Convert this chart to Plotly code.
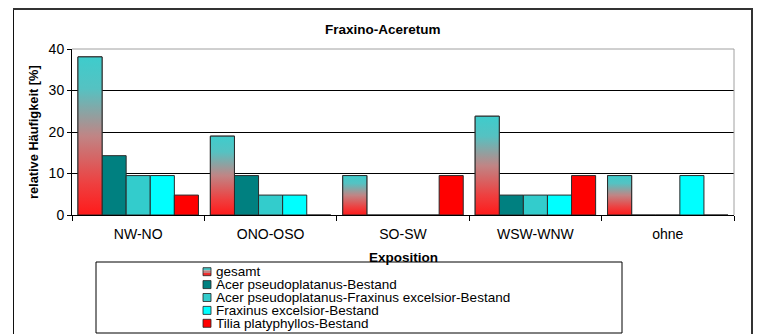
import plotly.graph_objects as go

# data (relative frequency in %)
categories = ['NW-NO', 'ONO-OSO', 'SO-SW', 'WSW-WNW', 'ohne']
gesamt = [38.1, 19.0, 9.5, 23.8, 9.5]
acer = [14.3, 9.5, 0, 4.8, 0]
acer_fraxinus = [9.5, 4.8, 0, 4.8, 0]
fraxinus = [9.5, 4.8, 0, 4.8, 9.5]
tilia = [4.8, 0, 9.5, 9.5, 0]

series_names = ['gesamt', 'Acer pseudoplatanus-Bestand',
                'Acer pseudoplatanus-Fraxinus excelsior-Bestand',
                'Fraxinus excelsior-Bestand', 'Tilia platyphyllos-Bestand']
series_colors = ['rgba(0,0,0,0)', '#008080', '#33CCCC', '#00FFFF', '#FF0000']
gradient = [[0, '#ff1a1a'], [0.2, '#ee4040'], [0.5, '#c08585'],
            [0.8, '#55c2c2'], [1, '#3ecccc']]

FONT = 'Liberation Sans, Arial, sans-serif'
OFF = 8  # page body margin
W, H = 765 - OFF, 334 - OFF
# plot area in screen pixels of the reference
L, R, T, B = 72, 734, 49, 215
BARGAP = 0.09
n_series = 5


def px(x):
    return (x - L) / (R - L)


def py(y):
    return (B - y) / (B - T)


x = list(range(len(categories)))
fig = go.Figure()

all_series = [gesamt, acer, acer_fraxinus, fraxinus, tilia]
for name, vals, col in zip(series_names, all_series, series_colors):
    fig.add_trace(go.Bar(
        x=x, y=vals, name=name,
        marker=dict(color=col, line=dict(color='#2a2a2a', width=1)),
        showlegend=False,
    ))

# gradient fill for the 'gesamt' bars
bw = (1 - BARGAP) / n_series
for i, v in enumerate(gesamt):
    x0 = i - (1 - BARGAP) / 2
    x1 = x0 + bw
    fig.add_trace(go.Scatter(
        x=[x0, x1, x1, x0, x0], y=[0, 0, v, v, 0],
        mode='lines', fill='toself',
        fillgradient=dict(type='vertical', colorscale=gradient),
        line=dict(color='#2a2a2a', width=1),
        showlegend=False, hoverinfo='skip',
    ))

shapes = [
    # outer chart frame
    dict(type='line', xref='paper', yref='paper', x0=px(13.5), x1=px(13.5), y0=py(345), y1=py(9),
         line=dict(color='#111', width=1)),
    dict(type='line', xref='paper', yref='paper', x0=px(13), x1=px(753), y0=py(9), y1=py(9),
         line=dict(color='#333', width=2)),
    dict(type='line', xref='paper', yref='paper', x0=px(752), x1=px(752), y0=py(345), y1=py(9),
         line=dict(color='#333', width=2)),
    # plot area border (top/right)
    dict(type='line', xref='paper', yref='paper', x0=0, x1=1, y0=1, y1=1,
         line=dict(color='#a0a0a0', width=1), layer='above'),
    dict(type='line', xref='paper', yref='paper', x0=1, x1=1, y0=0, y1=1,
         line=dict(color='#a0a0a0', width=1), layer='above'),
    # legend box
    dict(type='rect', xref='paper', yref='paper', x0=px(96), x1=px(622), y0=py(333), y1=py(262),
         line=dict(color='#000', width=1)),
]


def label(text, x, y, size=13.5, **kw):
    d = dict(text=text, x=px(x), y=py(y), xref='paper', yref='paper',
             xanchor='center', yanchor='middle', showarrow=False,
             font=dict(size=size, color='#000'))
    d.update(kw)
    return d


annotations = [
    label('<b>Fraxino-Aceretum</b>', 383, 30),
    label('<b>relative Häufigkeit [%]</b>', 33, 132, size=12.8, textangle=-90),
    label('<b>Exposition</b>', 403, 257),
]

# manual legend (tight rows like the original)
row0, row_h = 271.7, 12.9
legend_colors = [None, '#008080', '#33CCCC', '#00FFFF', '#FF0000']
for k, (name, col) in enumerate(zip(series_names, legend_colors)):
    yc = row0 + k * row_h
    if col is None:
        strips = ['#48c4c4', '#c08585', '#f02a2a']
        for s, sc in enumerate(strips):
            shapes.append(dict(type='rect', xref='paper', yref='paper',
                               x0=px(203), x1=px(211),
                               y0=py(yc - 4 + (s + 1) * 8 / 3), y1=py(yc - 4 + s * 8 / 3),
                               fillcolor=sc, line=dict(width=0)))
        shapes.append(dict(type='rect', xref='paper', yref='paper',
                           x0=px(203), x1=px(211), y0=py(yc + 4), y1=py(yc - 4),
                           line=dict(color='#222', width=0.8)))
    else:
        shapes.append(dict(type='rect', xref='paper', yref='paper',
                           x0=px(203), x1=px(211), y0=py(yc + 4), y1=py(yc - 4),
                           fillcolor=col, line=dict(color='#222', width=0.8)))
    annotations.append(label(name, 214, yc, xanchor='left'))

fig.update_layout(
    width=W, height=H,
    margin=dict(l=L - OFF, r=W - (R - OFF), t=T - OFF, b=H - (B - OFF)),
    barmode='group', bargap=BARGAP, bargroupgap=0,
    plot_bgcolor='white', paper_bgcolor='white',
    font=dict(family=FONT, size=13.5, color='#000'),
    showlegend=False,
    xaxis=dict(
        range=[-0.5, 4.5], tickmode='array', tickvals=x, ticktext=categories,
        ticks='', showgrid=False, zeroline=False,
        showline=True, linecolor='#000', linewidth=1,
        ticklabelstandoff=6, tickfont=dict(size=14),
        minor=dict(tickmode='linear', tick0=-0.5, dtick=1, ticks='outside',
                   ticklen=5, tickcolor='#000', showgrid=False),
    ),
    yaxis=dict(
        range=[0, 40], tickmode='array', tickvals=[0, 10, 20, 30, 40],
        ticks='outside', ticklen=4, tickcolor='#000', tickfont=dict(size=14),
        showgrid=True, gridcolor='#000', gridwidth=1, zeroline=False,
        showline=True, linecolor='#000', linewidth=1,
    ),
    shapes=shapes,
    annotations=annotations,
)

fig.write_html('out.html')
